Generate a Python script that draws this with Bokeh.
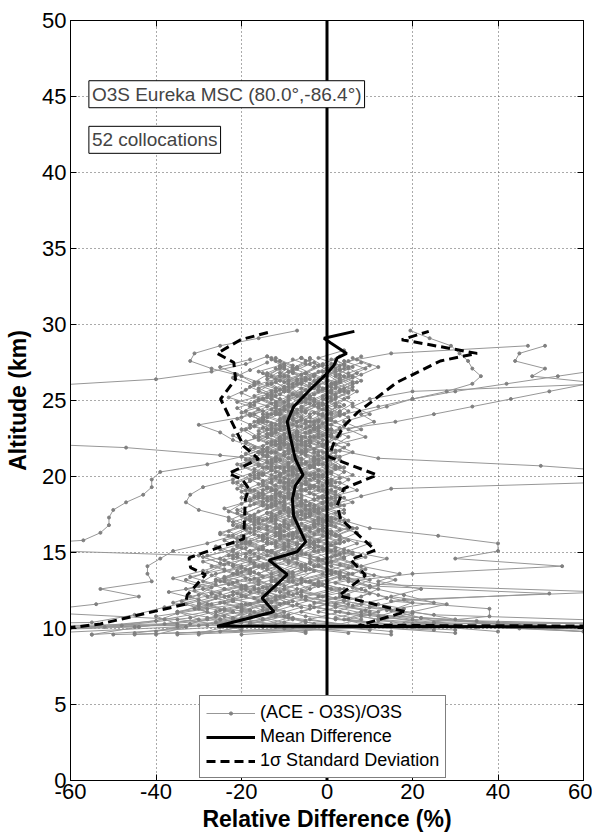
import numpy as np
from bokeh.plotting import figure
from bokeh.models import (Range1d, LinearAxis, FixedTicker, Legend, LegendItem,
                          Label, Span)
from bokeh.embed import file_html
from bokeh.resources import INLINE

# ---------------- data ----------------
x_ticks = [-60, -40, -20, 0, 20, 40, 60]
y_ticks = [0, 5, 10, 15, 20, 25, 30, 35, 40, 45, 50]

# individual (ACE - O3S)/O3S profiles: start altitude (km), values (%) every 0.5 km
prof_step = 0.5
prof_start = [9.7, 9.8, 9.6, 9.9, 10.0, 9.7, 9.8, 9.6, 10.1, 9.9,
              9.7, 9.8, 9.6, 10.0, 9.7, 9.9, 9.8, 9.6, 10.0, 9.7,
              9.9, 9.8, 10.1, 9.6, 9.7, 9.8, 10.1, 9.9, 9.6, 10.1,
              9.6, 9.6, 9.6, 10.1, 9.7, 9.6, 9.8, 9.9, 9.6, 9.8, 9.9,
              9.7, 9.8, 9.6, 9.9, 10.0, 9.7, 9.8, 10.1, 9.6, 9.9, 9.7]
prof_vals = [
    [-45, -30, -22, -18, -25, -20, -15, -12, -18, -14, -10, -16, -12, -8, -10, -14, -9, -6, -11, -13, -8, -5, -9, -12, -7, -10, -13, -9, -6, -11, -8, -4, -9, -12, -6, -3, -8],
    [80, 15, -5, -12, -8, -15, -10, -6, -3, -9, -12, -7, -4, -8, -11, -5, -2, -6, -9, -4, -7, -10, -6, -3, -8, -5, -2, -7, -10, -5, -1, -4, 2, -3, 0, 3, -2, 4],
    [-120, -52, -38, -28, -33, -26, -20, -24, -18, -22, -16, -13, -19, -15, -12, -17, -14, -10, -15, -18, -13, -9, -14, -11, -16, -12, -9, -13, -17, -14, -10, -15, -12, -8, -13, -10],
    [150, 40, 10, 2, -5, 4, -3, -8, 0, -4, 3, -2, -6, 1, -3, -7, -2, 2, -4, -1, 3, -2, -5, 0, 4, -1, -4, 1, 5, 0, -3, 2, 6, 3, -1, 4, 8],
    [-60, -40, -35, -30, -26, -31, -22, -27, -20, -24, -18, -21, -15, -19, -22, -17, -13, -18, -20, -16, -12, -17, -14, -19, -15, -11, -16, -13, -18, -21, -16, -20, -17, -22, -18, -14],
    [30, 5, -8, -14, -10, -6, -12, -16, -9, -5, -11, -7, -3, -8, -12, -6, -9, -4, -7, -10, -5, -8, -3, -6, -9, -4, -7, -2, -5, -8, -3, 1, -2, 3, 0, 5, 2],
    [-25, -18, -12, -20, -15, -9, -13, -17, -11, -7, -14, -10, -6, -12, -9, -13, -8, -11, -15, -10, -7, -12, -9, -14, -11, -8, -13, -10, -6, -9, -12, -7, -10, -5, -8, -11, -6],
    [200, 60, 20, 8, 12, 3, 8, 0, 5, -2, 4, 1, -3, 2, 6, 0, -4, 1, 4, -1, 2, -2, 3, 0, -3, 2, 5, 1, -2, 3, 0, 4, 7, 2, 5, 9, 4],
    [-35, -28, -22, -30, -24, -19, -25, -21, -16, -22, -18, -14, -20, -17, -13, -19, -15, -12, -18, -21, -16, -13, -18, -15, -11, -16, -19, -14, -17, -12, -15, -10, -13, -9, -12],
    [10, -10, -18, -12, -22, -16, -11, -8, -14, -18, -12, -9, -15, -11, -7, -13, -10, -6, -12, -9, -5, -10, -13, -8, -11, -6, -9, -13, -10, -7, -12, -8, -4, -7, -2, 1],
    [-90, -48, -32, -25, -36, -30, -27, -33, -28, -24, -29, -22, -19, -25, -21, -18, -23, -20, -16, -21, -18, -15, -20, -17, -14, -19, -22, -18, -15, -20, -17, -23, -19, -16, -21, -25, -18],
    [60, 25, 12, 18, 8, 3, 10, 5, 0, 6, 2, -3, 3, 7, 1, -2, 4, 0, -3, 2, 5, 1, -2, 3, 0, -4, 1, 4, 0, 3, 6, 2, -1, 3, 7, 4],
    [-40, -33, -20, -26, -18, -23, -29, -21, -16, -12, -18, -13, -9, -15, -11, -8, -13, -10, -7, -12, -15, -11, -8, -13, -10, -6, -11, -14, -9, -12, -8, -5, -10, -7, -3, -8, -5],
    [120, 35, 5, -4, 2, -6, -2, 3, -5, -1, 4, -3, -7, -2, 1, -4, -8, -3, 0, -5, -2, 2, -3, -6, -1, 2, -4, -1, 3, -2, 1, 5, 2, 6, 3, 8],
    [-30, -22, -28, -18, -24, -14, -20, -26, -17, -22, -19, -15, -21, -17, -14, -19, -16, -12, -17, -14, -11, -16, -13, -9, -14, -11, -8, -13, -16, -12, -9, -14, -11, -17, -14, -10, -13],
    [-70, -20, -9, -15, -5, -11, -7, -13, -4, -9, -6, -12, -8, -4, -10, -7, -3, -8, -11, -6, -3, -9, -5, -2, -7, -10, -5, -8, -4, -1, -6, -3, 1, -2, 2, -1, 3],
    [40, 18, 8, 14, 4, 10, -2, 5, 1, -4, 2, -1, 5, 0, -3, 3, -1, 6, 2, -2, 1, 4, -1, 2, -3, 0, 3, -2, 1, 5, 2, -1, 4, 8, 5, 10, 6],
    [-55, -44, -30, -35, -27, -32, -24, -29, -26, -20, -25, -22, -18, -23, -19, -16, -21, -18, -14, -19, -22, -17, -14, -19, -16, -12, -17, -20, -15, -18, -14, -11, -16, -13, -10, -7, -11],
    [-10, -5, -14, -8, -17, -12, -6, -11, -15, -9, -13, -7, -11, -14, -8, -5, -10, -13, -9, -6, -11, -8, -12, -9, -5, -10, -7, -11, -8, -12, -9, -6, -2, -5, 0, -3],
    [100, 45, 22, 15, 20, 12, 6, 10, 3, 7, 1, 4, -2, 2, 5, 0, -3, 1, -1, 3, -2, 1, -4, 0, 2, -2, 1, -3, 0, 3, -1, 2, 6, 3, 8, 12, 7],
    [-20, -26, -16, -21, -12, -18, -23, -15, -19, -13, -17, -21, -14, -10, -16, -12, -9, -14, -11, -15, -12, -8, -13, -10, -14, -11, -7, -12, -9, -13, -10, -6, -9, -5, -8, -4],
    [-150, -38, -24, -31, -22, -27, -19, -24, -21, -17, -23, -19, -15, -11, -17, -13, -10, -15, -12, -8, -13, -10, -7, -12, -9, -13, -10, -6, -11, -8, -4, -9, -6, -2, -5, -1, -4],
    [20, 2, -6, 0, -10, -4, -8, -1, -6, -10, -3, -7, -11, -5, -2, -8, -4, -9, -6, -2, -7, -4, -8, -5, -1, -6, -3, -7, -4, 0, -5, -2, 2, -1, 3],
    [-100, -45, -25, -35, -20, -28, -33, -26, -22, -16, -12, -18, -14, -10, -16, -13, -9, -14, -17, -12, -9, -15, -11, -8, -13, -10, -14, -11, -7, -12, -9, -13, -10, -14, -11, -8, -12],
    [5, -12, -20, -15, -9, -14, -19, -13, -8, -12, -16, -10, -14, -11, -7, -12, -9, -13, -10, -6, -11, -8, -4, -9, -6, -10, -7, -3, -8, -5, -9, -6, -2, -6, -3, -7, -4],
    [-40, -32, -26, -30, -22, -27, -20, -24, -18, -25, -30, -85, -57, -53, -51, -51, -50, -47, -43, -41, -41, -39, -28, -20, -15, -19, -14, -10, -15, -12, -9, -13, -10, -7, -11, -8, -12],
    [-15, -8, -20, -14, -10, -17, -12, -8, -14, -11, -7, -13, -9, -16, -12, -8, -13, -10, -15, -11, -8, -12, -16, -13, -9, -14, -11, -16, -13, -18, -15, -12, -17, -20, -27, -32, -31, -25, -16, -7],
    [90, 25, 8, -3, 4, -6, -1, -9, -4, 1, -5, -10, -6, -2, -8, -4, 0, -5, -9, -3, -7, -2, -6, -25, -47, -90, -120, -130, -140, -130, -120, -100, -70, -40, -27, -19, -14],
    [-30, -20, -35, -70, -54, -44, -53, -41, -42, -42, -39, -36, -28, -22, -18, -23, -19, -15, -20, -17, -13, -18, -15, -11, -16, -13, -17, -14, -10, -15, -12, -16, -13, -9, -14, -11],
    [35, 12, 2, 8, -2, 4, -4, 1, 6, 0, -3, 3, -1, 5, 1, -2, 4, 0, 7, 3, -1, 4, 1, 6, 2, 9, 5, 11, 8, 14, 20, 28, 34, 36, 34, 33, 31, 29, 24, 19.5],
    [-50, 20, 5, 12, 2, -5, 3, -2, 6, 1, -4, 2, 7, 3, -1, 5, 2, -3, 1, 4, 0, 6, 3, -2, 2, 5, 1, 8, 4, 10, 6, 10, 20, 65, 48, 51, 44, 45, 51],
    [15, -8, -15, -10, -18, -12, -7, -13, -9, -15, -11, -6, -12, -8, -4, -10, -7, -12, -9, -5, -10, -7, -3, -8, -5, -1, -6, -3, 2, -2, 3, -1, 4, 1, 6, 2, 5, 15, 47],
    [-20, 8, -4, 3, -7, -1, -10, -5, 1, -6, -2, -9, -4, 0, -7, -3, -8, -5, -1, -6, -10, -4, -8, -2, -6, 0, -4, 3, 16, 25, 34, 43, 52, 61, 70, 80],
    [-8, -22, -14, -19, -11, -16, -8, -13, -17, -10, -14, -7, -12, -9, -15, -11, -6, -10, -13, -8, -4, -9, -6, -2, -7, -3, 1, -4, 4, 12, 20, 30, 42, 54, 66],
    [-5, -15, -9, -20, -13, -8, -14, -18, -11, -6, -12, -8, -3, -9, -5, -1, -6, 2, 8, 15, 75, 75, 50, 12, 3, -4, 1, -5, -2, -8, -3, -6, -1, 2, -3, 1],
    [-35, 15, 4, 10, 2, 8, 12, 5, 20, 55, 30, 40, 40, 26, 10, 4, -2, 3, -1, -5, 0, -3, 2, -2, -6, -1, -4, 0, -3, 1, -2, 2, 5, 1, 4, 0],
    [60, 20, 38, 38, 15, 52, 10, 3, 8, 0, -4, 2, -2, -7, -3, 1, -5, -1, -6, -10, -4, -8, -3, -7, -11, -6, -9, -4, -8, -5, -1, -6, -3, -9, -5, -2, -6],
    [-200, 80, 25, 10, 18, 65, 12, 4, 9, 1, 6, -2, 3, -1, -6, 0, -3, -8, -4, 1, -3, -7, -2, -5, -9, -4, -7, -3, -6, -10, -5, -8, -2, -6, -1, 2],
    [-55, -25, -15, -22, -28, -19, -24, -16, -21, -27, -18, -14, -20, -16, -12, -18, -14, -10, -16, -13, -9, -15, -12, -8, -14, -10, -7, -12, -16, -11, -8, -13, -10, -6, -11, -8],
    [-5, -18, -10, -24, -16, -21, -13, -19, -24, -17, -22, -15, -20, -25, -19, -23, -30, -33, -32, -29, -22, -17, -21, -14, -18, -12, -16, -11, -15, -19, -13, -17, -12, -9, -14, -10, -13],
    [30, -5, -12, -6, -14, -9, -3, -10, -6, -13, -8, -4, -11, -7, -2, -9, -5, -12, -8, -4, -10, -6, -14, -10, -17, -22, -25, -30, -20, -16, -21, -14, -18, -12, -16, -10, -14],
    [250, 30, 22, 14, 25, 18, 10, 16, 8, 3, 9, -1, 4, -3, 2, -2, -6, -1, 3, -4, 0, -3, 2, -1, -5, 0, 3, -2, 1, -3, 2, 5, 1, 6, 3],
    [-80, -35, -40, -28, -34, -25, -30, -36, -29, -23, -28, -20, -24, -18, -22, -17, -21, -15, -19, -14, -18, -22, -16, -20, -15, -19, -13, -17, -21, -15, -18, -12, -16, -11, -15],
    [70, 45, 30, 20, 28, 15, 22, 12, 17, 8, 14, 5, 10, 2, 7, -1, 4, -3, 2, -2, 1, -4, 0, 3, -1, -5, -2, 1, -3, 0, 2, -1, 3, 6, 2, 5],
    [-160, -55, -45, -38, -30, -37, -26, -32, -24, -29, -21, -26, -19, -23, -17, -20, -24, -18, -15, -20, -16, -13, -18, -14, -11, -16, -12, -18, -15, -11, -17, -13, -10, -14, -9],
    [45, 12, 20, 6, 14, 9, 2, 11, 5, -2, 6, 1, -4, 3, -1, -6, 0, -3, 2, -5, -1, -7, -3, 0, -4, -8, -2, -5, -1, -6, -3, 1, -2, 3, 0],
    [-65, -28, -18, -24, -30, -22, -17, -26, -20, -15, -21, -25, -18, -14, -20, -16, -11, -17, -13, -9, -15, -11, -16, -12, -8, -14, -10, -15, -11, -7, -12, -9, -5, -10, -6, -11],
    [15, -3, -10, -4, -13, -7, -2, -9, -5, 0, -7, -3, -9, -6, -1, -8, -4, -10, -7, -3, -9, -6, -2, -8, -5, -11, -7, -4, -9, -6, -2, -7, -4, 0, -5, -2, -6],
    [-12, -25, -17, -11, -20, -14, -9, -16, -12, -7, -13, -10, -15, -11, -8, -14, -10, -6, -12, -9, -13, -10, -7, -12, -8, -5, -10, -7, -11, -8, -4, -9, -6, -10, -7],
    [-45, 0, 8, -2, 5, -6, 1, -4, 3, -3, -8, -2, 2, -5, -1, 3, -4, -7, -2, 1, -5, -2, -8, -3, 0, -6, -2, -9, -5, -1, -6, -3, 1, -4, 0, 4],
    [25, -18, -26, -20, -14, -22, -16, -24, -18, -13, -19, -15, -21, -17, -12, -18, -14, -10, -16, -12, -17, -13, -9, -15, -11, -7, -13, -9, -14, -10, -6, -11, -8, -4, -9, -5],
    [-35, 10, 2, 9, -3, 5, 0, -6, 2, -2, 4, -1, -5, 1, -3, 2, -2, -6, -1, 3, -2, -5, 0, -3, 1, -4, -1, 3, -2, 1, 4, 0, 3, 7, 2, 6, 1],
]

# mean difference profile
mean_alt = [9.9, 10.15, 11.1, 12.0, 13.55, 14.5, 15.05, 15.7, 17.4, 18.5, 19.4, 20.1, 21.15,
            22.5, 23.6, 24.6, 25.95, 26.7, 27.3, 27.8, 28.1, 28.8, 29.1, 29.55]
mean_diff = [400, -25.7, -12.4, -15.2, -9.3, -13.6, -7.0, -5.0, -7.8, -8.1, -7.4, -5.6, -7.4,
             -8.5, -9.3, -7.8, -3.1, -0.3, 1.6, 2.4, 4.6, 0.8, -0.7, 6.4]

# mean - 1 sigma
sdlo_alt = [9.9, 10.07, 10.3, 11.6, 12.2, 13.55, 14.0, 14.65, 15.9, 18.5, 19.2, 19.8, 20.2,
            21.15, 22.0, 25.1, 26.4, 27.5, 28.1, 29.0, 29.55]
sdlo_val = [-300, -59.6, -53, -33.1, -32.7, -28.4, -31.9, -32.3, -19.5, -19.1, -18.3, -19.8, -23.0,
            -16.0, -19.5, -24.9, -21.4, -21.8, -25.7, -20.2, -12.8]

# mean + 1 sigma
sdhi_alt = [9.9, 10.2, 11.1, 12.16, 13.5, 14.54, 15.15, 17.2, 18.1, 19.2, 20.1, 21.3, 22.2,
            23.3, 24.2, 26.2, 27.6, 28.1, 29.0, 29.55]
sdhi_val = [500, 7.4, 18.4, 2.8, 9.0, 5.5, 11.3, 3.2, 2.4, 3.9, 11.7, 0.4, 1.6,
            3.9, 7.1, 16.4, 26.5, 35.1, 17.5, 23.8]

# ---------------- figure ----------------
FONT = "Liberation Sans"
GRAY = "#979797"

p = figure(width=592, height=834, x_range=Range1d(-60, 60), y_range=Range1d(0, 50),
           output_backend="svg", toolbar_location=None,
           min_border_left=70, min_border_right=9, min_border_top=20, min_border_bottom=51)
p.background_fill_color = "white"
p.border_fill_color = "white"
p.outline_line_color = "black"
p.outline_line_width = 1

for ax in (p.xaxis[0], p.yaxis[0]):
    ax.major_tick_in = 6
    ax.major_tick_out = 0
    ax.minor_tick_in = 0
    ax.minor_tick_out = 0
    ax.axis_line_color = "black"
    ax.major_tick_line_color = "black"
    ax.major_label_text_font = FONT
    ax.major_label_text_font_size = "22px"
    ax.major_label_text_color = "black"
    ax.axis_label_text_font = FONT
    ax.axis_label_text_font_size = "23px"
    ax.axis_label_text_font_style = "bold"
    ax.axis_label_text_color = "black"

p.xaxis.ticker = FixedTicker(ticks=x_ticks)
p.yaxis.ticker = FixedTicker(ticks=y_ticks)
p.xaxis.major_label_overrides = {t: str(t) for t in x_ticks}
p.yaxis.major_label_overrides = {t: str(t) for t in y_ticks}
p.xaxis.axis_label = "Relative Difference (%)"
p.yaxis.axis_label = "Altitude (km)"
p.xaxis.major_label_standoff = 3
p.xaxis.axis_label_standoff = 4
p.yaxis.major_label_standoff = 4
p.yaxis.axis_label_standoff = 8

top_ax = LinearAxis(ticker=FixedTicker(ticks=x_ticks), major_label_text_color=None,
                    major_tick_in=6, major_tick_out=0, minor_tick_in=0, minor_tick_out=0,
                    major_label_standoff=0)
right_ax = LinearAxis(ticker=FixedTicker(ticks=y_ticks), major_label_text_color=None,
                      major_tick_in=6, major_tick_out=0, minor_tick_in=0, minor_tick_out=0,
                      major_label_standoff=0)
p.add_layout(top_ax, "above")
p.add_layout(right_ax, "right")

p.xgrid.ticker = FixedTicker(ticks=x_ticks)
p.ygrid.ticker = FixedTicker(ticks=y_ticks)
for g in (p.xgrid[0], p.ygrid[0]):
    g.grid_line_color = "#555555"
    g.grid_line_dash = "1 3"
    g.grid_line_width = 1

# profiles
xs, ys = [], []
for s, v in zip(prof_start, prof_vals):
    v = np.asarray(v, dtype=float)
    xs.append(v)
    ys.append(s + prof_step * np.arange(len(v)))
pr = p.multi_line(xs, ys, line_color=GRAY, line_width=1)
pts = p.scatter(np.concatenate(xs), np.concatenate(ys), size=3, marker="circle",
                fill_color="#808080", line_color="#808080")

zero = Span(location=0, dimension="height", line_color="black", line_width=3)
p.add_layout(zero)

mr = p.line(mean_diff, mean_alt, line_color="black", line_width=3)
sr1 = p.line(sdlo_val, sdlo_alt, line_color="black", line_width=3, line_dash="9 5")
sr2 = p.line(sdhi_val, sdhi_alt, line_color="black", line_width=3, line_dash="9 5")

legend = Legend(items=[
    LegendItem(label="(ACE - O3S)/O3S", renderers=[pr, pts]),
    LegendItem(label="Mean Difference", renderers=[mr]),
    LegendItem(label="1σ Standard Deviation", renderers=[sr1]),
], location=(129, 2))
legend.label_text_font = FONT
legend.label_text_font_size = "18px"
legend.label_text_color = "black"
legend.glyph_width = 49
legend.glyph_height = 8
legend.label_height = 19
legend.spacing = 3
legend.padding = 6
legend.margin = 0
legend.label_standoff = 5
legend.border_line_color = "black"
legend.border_line_width = 1
legend.background_fill_color = "white"
legend.background_fill_alpha = 1
p.add_layout(legend, "center")

lab1 = Label(x=-55.7, y=45.15, text="O3S Eureka MSC (80.0°,-86.4°)", text_font=FONT,
             text_font_size="19px", text_baseline="middle", text_align="left",
             background_fill_color="white", border_line_color="black", padding=3)
lab2 = Label(x=-55.7, y=42.15, text="52 collocations", text_font=FONT,
             text_font_size="19px", text_baseline="middle", text_align="left",
             background_fill_color="white", border_line_color="black", padding=3)
p.add_layout(lab1)
p.add_layout(lab2)

open("out.html", "w").write(file_html(p, INLINE))
